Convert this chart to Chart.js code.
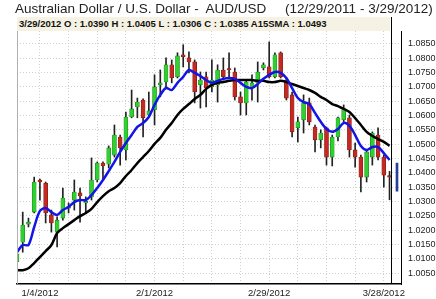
<!DOCTYPE html>
<html>
<head>
<meta charset="utf-8">
<script src="https://cdn.jsdelivr.net/npm/chart.js@4.4.1/dist/chart.umd.min.js"></script>
<style>
    html, body { margin: 0; padding: 0; background: #fff; }
    #wrap { position: relative; width: 436px; height: 299px; overflow: hidden; }
    #title {
        position: absolute; left: 15px; top: 1px;
        font: 13.5px "Liberation Sans", Arial, sans-serif; color: #222; white-space: pre;
    }
    #info {
        position: absolute; left: 17px; top: 17px; width: 373px; height: 14px;
        background: #f5f2e3; box-sizing: border-box; padding-left: 2px;
        font: bold 9.5px "Liberation Sans", Arial, sans-serif; line-height: 14px;
        color: #111; white-space: pre;
    }
    canvas { position: absolute; left: 0; top: 0; }
</style>
</head>
<body>
<div id="wrap">
    <canvas id="chart" width="436" height="299"></canvas>
    <div id="title">Australian Dollar / U.S. Dollar -  AUD/USD     (12/29/2011 - 3/29/2012)</div>
    <div id="info">3/29/2012 O : 1.0390 H : 1.0405 L : 1.0306 C : 1.0385 A15SMA : 1.0493</div>
</div>
<script>
// Trading days shown on the chart
const dates = [
    '12/29/2011', '12/30/2011',
    '1/2/2012', '1/3/2012', '1/4/2012', '1/5/2012', '1/6/2012',
    '1/9/2012', '1/10/2012', '1/11/2012', '1/12/2012', '1/13/2012',
    '1/16/2012', '1/17/2012', '1/18/2012', '1/19/2012', '1/20/2012',
    '1/23/2012', '1/24/2012', '1/25/2012', '1/26/2012', '1/27/2012',
    '1/30/2012', '1/31/2012', '2/1/2012', '2/2/2012', '2/3/2012',
    '2/6/2012', '2/7/2012', '2/8/2012', '2/9/2012', '2/10/2012',
    '2/13/2012', '2/14/2012', '2/15/2012', '2/16/2012', '2/17/2012',
    '2/20/2012', '2/21/2012', '2/22/2012', '2/23/2012', '2/24/2012',
    '2/27/2012', '2/28/2012', '2/29/2012', '3/1/2012', '3/2/2012',
    '3/5/2012', '3/6/2012', '3/7/2012', '3/8/2012', '3/9/2012',
    '3/12/2012', '3/13/2012', '3/14/2012', '3/15/2012', '3/16/2012',
    '3/19/2012', '3/20/2012', '3/21/2012', '3/22/2012', '3/23/2012',
    '3/26/2012', '3/27/2012', '3/28/2012', '3/29/2012'
];

const opens = [
    1.0089, 1.0158, 1.0221, 1.0263, 1.0375, 1.0364, 1.0253, 1.0193, 1.0242, 1.0277,
    1.0305, 1.0330, 1.0295, 1.0316, 1.0375, 1.0434, 1.0430, 1.0462, 1.0525, 1.0480,
    1.0595, 1.0630, 1.0654, 1.0602, 1.0620, 1.0707, 1.0717, 1.0777, 1.0735, 1.0812,
    1.0801, 1.0787, 1.0707, 1.0735, 1.0700, 1.0707, 1.0759, 1.0763, 1.0752, 1.0665,
    1.0644, 1.0696, 1.0714, 1.0766, 1.0770, 1.0735, 1.0819, 1.0724, 1.0672, 1.0557,
    1.0585, 1.0644, 1.0560, 1.0515, 1.0557, 1.0455, 1.0525, 1.0585, 1.0592, 1.0480,
    1.0455, 1.0385, 1.0455, 1.0532, 1.0455, 1.0390
];
const highs = [
    1.0123, 1.0263, 1.0242, 1.0385, 1.0378, 1.0368, 1.0270, 1.0246, 1.0347, 1.0295,
    1.0375, 1.0347, 1.0316, 1.0452, 1.0438, 1.0438, 1.0494, 1.0567, 1.0532, 1.0612,
    1.0689, 1.0661, 1.0658, 1.0682, 1.0742, 1.0759, 1.0801, 1.0794, 1.0819, 1.0847,
    1.0822, 1.0794, 1.0752, 1.0752, 1.0794, 1.0777, 1.0801, 1.0819, 1.0766, 1.0682,
    1.0724, 1.0742, 1.0787, 1.0784, 1.0857, 1.0819, 1.0822, 1.0731, 1.0682, 1.0595,
    1.0672, 1.0661, 1.0567, 1.0550, 1.0560, 1.0532, 1.0595, 1.0637, 1.0602, 1.0504,
    1.0462, 1.0480, 1.0543, 1.0557, 1.0462, 1.0405
];
const lows = [
    1.0082, 1.0123, 1.0211, 1.0260, 1.0305, 1.0225, 1.0193, 1.0141, 1.0235, 1.0260,
    1.0270, 1.0228, 1.0260, 1.0305, 1.0368, 1.0375, 1.0417, 1.0455, 1.0427, 1.0445,
    1.0592, 1.0592, 1.0525, 1.0595, 1.0567, 1.0665, 1.0696, 1.0714, 1.0731, 1.0770,
    1.0749, 1.0644, 1.0626, 1.0630, 1.0682, 1.0647, 1.0724, 1.0735, 1.0654, 1.0602,
    1.0602, 1.0654, 1.0647, 1.0759, 1.0731, 1.0731, 1.0731, 1.0654, 1.0525, 1.0508,
    1.0539, 1.0567, 1.0473, 1.0487, 1.0427, 1.0424, 1.0511, 1.0578, 1.0455, 1.0420,
    1.0333, 1.0368, 1.0427, 1.0445, 1.0350, 1.0306
];
const closes = [
    1.0117, 1.0218, 1.0228, 1.0368, 1.0368, 1.0260, 1.0225, 1.0235, 1.0312, 1.0281,
    1.0333, 1.0319, 1.0298, 1.0375, 1.0434, 1.0424, 1.0487, 1.0532, 1.0487, 1.0595,
    1.0623, 1.0647, 1.0592, 1.0616, 1.0700, 1.0714, 1.0777, 1.0731, 1.0808, 1.0805,
    1.0787, 1.0682, 1.0724, 1.0696, 1.0724, 1.0759, 1.0735, 1.0759, 1.0665, 1.0644,
    1.0717, 1.0714, 1.0752, 1.0777, 1.0735, 1.0812, 1.0735, 1.0661, 1.0543, 1.0578,
    1.0644, 1.0578, 1.0515, 1.0539, 1.0455, 1.0525, 1.0592, 1.0620, 1.0480, 1.0455,
    1.0385, 1.0473, 1.0539, 1.0455, 1.0392, 1.0385
];

// Moving averages (blue = short, black = A15SMA)
const smaShort = [
    1.0123, 1.0148, 1.0148, 1.0211, 1.0267, 1.0277, 1.0263, 1.0253, 1.0270, 1.0281,
    1.0298, 1.0305, 1.0305, 1.0322, 1.0347, 1.0375, 1.0406, 1.0438, 1.0473, 1.0504,
    1.0532, 1.0560, 1.0574, 1.0595, 1.0637, 1.0672, 1.0696, 1.0689, 1.0714, 1.0735,
    1.0759, 1.0749, 1.0738, 1.0724, 1.0714, 1.0721, 1.0728, 1.0731, 1.0728, 1.0714,
    1.0700, 1.0696, 1.0710, 1.0728, 1.0742, 1.0752, 1.0749, 1.0731, 1.0696, 1.0661,
    1.0647, 1.0640, 1.0609, 1.0578, 1.0553, 1.0543, 1.0553, 1.0574, 1.0564, 1.0532,
    1.0494, 1.0480, 1.0490, 1.0490, 1.0469, 1.0445
];
const sma15 = [
    1.0060, 1.0060, 1.0067, 1.0085, 1.0106, 1.0127, 1.0148, 1.0190, 1.0207, 1.0221,
    1.0235, 1.0249, 1.0260, 1.0274, 1.0298, 1.0319, 1.0336, 1.0347, 1.0364, 1.0389,
    1.0410, 1.0434, 1.0455, 1.0476, 1.0501, 1.0522, 1.0550, 1.0574, 1.0602, 1.0623,
    1.0640, 1.0658, 1.0672, 1.0693, 1.0707, 1.0714, 1.0717, 1.0721, 1.0724, 1.0724,
    1.0724, 1.0724, 1.0721, 1.0721, 1.0717, 1.0717, 1.0721, 1.0717, 1.0710, 1.0703,
    1.0696, 1.0689, 1.0679, 1.0665, 1.0654, 1.0640, 1.0633, 1.0623, 1.0612, 1.0591,
    1.0567, 1.0543, 1.0529, 1.0518, 1.0508, 1.0494
];

// Small blue range marker right of the last candle
const markerRange = [1.0336, 1.0434];
const markerPos = 66.3;

// Axis ticks
const yTicks = [1.005, 1.010, 1.015, 1.020, 1.025, 1.030, 1.035, 1.040, 1.045,
    1.050, 1.055, 1.060, 1.065, 1.070, 1.075, 1.080, 1.085];
const xGridTicks = [4, 9, 14, 19, 24, 29, 34, 39, 44, 49, 54, 59, 64];
const xLabelTicks = [4, 24, 44, 64];

const UP_FILL = '#2fd12f';
const UP_EDGE = '#1b7d1b';
const DOWN_FILL = '#c42a22';
const DOWN_EDGE = '#7a1812';

const bodies = opens.map((o, i) => ({ x: i, y: [o, closes[i]] }));
const wicks = lows.map((l, i) => ({ x: i, y: [l, highs[i]] }));
const isUp = opens.map((o, i) => closes[i] >= o);

// Draws the left frame line and the cross-hair on the last day
const framePlugin = {
    id: 'frame',
    afterDatasetsDraw(chart) {
        const { ctx, chartArea, scales } = chart;
        ctx.save();
        ctx.strokeStyle = '#b0b0b0';
        ctx.lineWidth = 1;
        ctx.beginPath();
        ctx.moveTo(chartArea.left + 0.5, chartArea.top);
        ctx.lineTo(chartArea.left + 0.5, chartArea.bottom);
        ctx.stroke();

        const cx = Math.round(scales.x.getPixelForValue(dates.length - 1)) + 1.5;
        ctx.strokeStyle = '#000';
        ctx.beginPath();
        ctx.moveTo(cx, 17);
        ctx.lineTo(cx, chartArea.bottom);
        ctx.stroke();
        ctx.restore();
    }
};

const config = {
    data: {
        datasets: [
            {
                type: 'line',
                label: 'Short SMA',
                data: smaShort.map((v, i) => ({ x: i, y: v })),
                borderColor: '#1414e6',
                borderWidth: 2.5,
                pointRadius: 0,
                tension: 0.3,
                order: 0
            },
            {
                type: 'line',
                label: 'A15SMA',
                data: sma15.map((v, i) => ({ x: i, y: v })),
                borderColor: '#000',
                borderWidth: 2.5,
                pointRadius: 0,
                tension: 0.3,
                order: 1
            },
            {
                type: 'bar',
                label: 'Body',
                data: bodies,
                backgroundColor: isUp.map(u => u ? UP_FILL : DOWN_FILL),
                borderColor: isUp.map(u => u ? UP_EDGE : DOWN_EDGE),
                borderWidth: 0.6,
                borderSkipped: false,
                barThickness: 4,
                minBarLength: 1.5,
                grouped: false,
                order: 2
            },
            {
                type: 'bar',
                label: 'Wick',
                data: wicks,
                backgroundColor: '#222',
                barThickness: 1,
                grouped: false,
                order: 3
            },
            {
                type: 'bar',
                label: 'Range',
                data: [{ x: markerPos, y: markerRange }],
                backgroundColor: '#24409a',
                barThickness: 2,
                grouped: false,
                order: 4
            }
        ]
    },
    options: {
        responsive: false,
        animation: false,
        layout: {
            padding: { left: 17, top: 31, right: 0, bottom: 0 }
        },
        plugins: {
            legend: { display: false },
            tooltip: { enabled: false }
        },
        scales: {
            x: {
                type: 'linear',
                offset: false,
                min: 0,
                max: 67,
                afterBuildTicks: scale => {
                    scale.ticks = xGridTicks.map(v => ({ value: v }));
                },
                afterFit: scale => { scale.height = 15; },
                ticks: {
                    autoSkip: false,
                    maxRotation: 0,
                    padding: 4,
                    color: '#222',
                    font: { family: 'Liberation Sans', size: 9.5 },
                    callback: value => xLabelTicks.includes(value) ? dates[value] : ''
                },
                grid: {
                    offset: false,
                    color: '#cfcfcf',
                    drawTicks: false
                },
                border: {
                    display: true,
                    color: '#000',
                    width: 1.5,
                    dash: [1, 2]
                }
            },
            y: {
                type: 'linear',
                position: 'right',
                min: 1.0012,
                max: 1.0895,
                afterBuildTicks: scale => {
                    scale.ticks = yTicks.map(v => ({ value: v }));
                },
                afterFit: scale => { scale.width = 35; },
                ticks: {
                    padding: 7,
                    color: '#222',
                    font: { family: 'Liberation Sans', size: 9 },
                    callback: value => value.toFixed(4)
                },
                grid: {
                    color: '#cfcfcf',
                    drawTicks: false
                },
                border: {
                    display: true,
                    color: '#000',
                    width: 1,
                    dash: [1, 2]
                }
            }
        }
    },
    plugins: [framePlugin]
};

new Chart(document.getElementById('chart'), config);
</script>
</body>
</html>
